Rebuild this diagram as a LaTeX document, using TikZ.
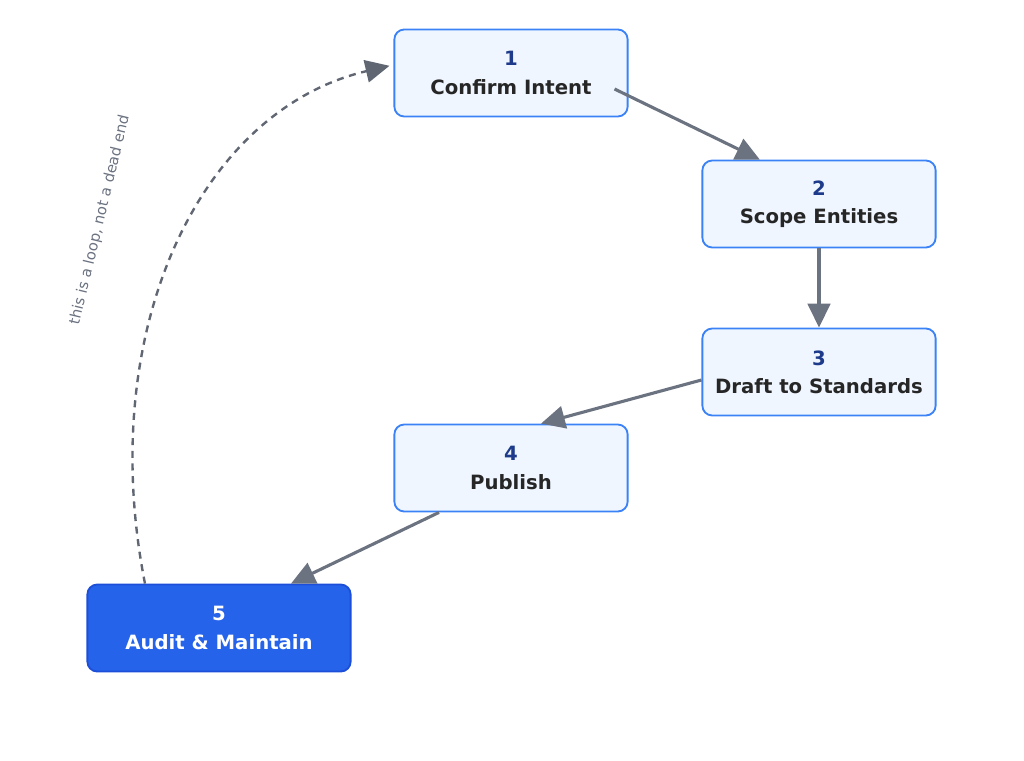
\documentclass[tikz,border=0pt]{standalone}
\usepackage{fontspec}
\setmainfont{DejaVu Sans}
\usetikzlibrary{arrows.meta,positioning}
\definecolor{stepfill}{HTML}{EFF6FF}
\definecolor{stepline}{HTML}{3B82F6}
\definecolor{stepnum}{HTML}{1E3A8A}
\definecolor{doneblue}{HTML}{2563EB}
\definecolor{doneline}{HTML}{1D4ED8}
\definecolor{flowgray}{HTML}{6B7280}

\begin{document}
\begin{tikzpicture}[x=0.025cm,y=-0.025cm,semithick]
	  \tikzstyle{stage}=[rectangle,rounded corners=7pt,fill=stepfill,draw=stepline,line width=1.3pt,
	    minimum width=5.83cm,minimum height=2.175cm,align=center,text=black!85,
	    font=\fontsize{14}{20}\selectfont\bfseries]
	  \tikzstyle{flow}=[draw=flowgray,line width=2.2pt,-{Triangle[length=17pt,width=16pt]}]

	  \useasboundingbox (0,0) rectangle (1024,761);

	  \node[stage] (S1) at (511,73) {\textcolor{stepnum}{1}\\Confirm Intent};
	  \node[stage] (S2) at (819,204) {\textcolor{stepnum}{2}\\Scope Entities};
	  \node[stage] (S3) at (819,372) {\textcolor{stepnum}{3}\\Draft to Standards};
	  \node[stage] (S4) at (511,468) {\textcolor{stepnum}{4}\\Publish};
	  \node[stage] (S5) [fill=doneblue,draw=doneline,text=white,minimum width=6.58cm] at (219,628) {5\\Audit \& Maintain};

	  \draw[flow] ([xshift=-0.35cm,yshift=-0.4cm]S1.east) -- ([xshift=-1.48cm]S2.north);
	  \draw[flow] (S2) -- (S3);
	  \draw[flow] ([yshift=-0.2cm]S3.west) -- ([xshift=0.75cm]S4.north);
	  \draw[flow] ([xshift=-1.8cm]S4.south) -- ([xshift=1.8cm]S5.north);

	  \draw[flowgray!90!black,line width=1.7pt,dash pattern=on 5pt off 4pt,-{Triangle[length=17pt,width=16pt]}]
	    ([xshift=-1.85cm]S5.north) .. controls (95,330) and (200,110) .. ([xshift=-0.1cm,yshift=0.18cm]S1.west);
	  \node[rotate=76.5,text=flowgray,font=\fontsize{10.5}{12}\selectfont] (note) at (100,220) {this is a loop, not a dead end};
\end{tikzpicture}
\end{document}
